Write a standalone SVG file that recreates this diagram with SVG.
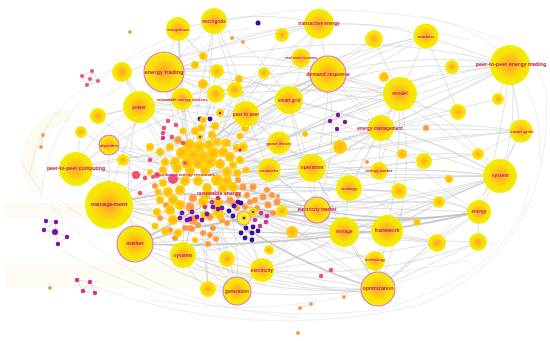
<svg xmlns="http://www.w3.org/2000/svg" width="550" height="341" viewBox="0 0 550 341">
<defs>
<radialGradient id="gb" cx="50%" cy="50%" r="50%">
<stop offset="0" stop-color="#ffa41c"/>
<stop offset="0.3" stop-color="#ffbc1c"/>
<stop offset="0.65" stop-color="#f9de08"/>
<stop offset="1" stop-color="#f0f000"/>
</radialGradient>
<radialGradient id="gs" cx="50%" cy="50%" r="50%">
<stop offset="0" stop-color="#ffb01e"/>
<stop offset="1" stop-color="#ffd600"/>
</radialGradient>
<radialGradient id="go" cx="50%" cy="50%" r="50%">
<stop offset="0" stop-color="#ff8f3a"/>
<stop offset="1" stop-color="#ffa24a"/>
</radialGradient>
<style>
.bg{fill:#fcf7ea}
.e{fill:none;stroke:#c2c2c2;stroke-width:0.6;stroke-opacity:0.8}
.e2{fill:none;stroke:#bfbfbf;stroke-width:1.7;stroke-opacity:0.8}
.e3{fill:none;stroke:#e2e2e2;stroke-width:0.6}
.ec{fill:none;stroke:#b8b8b8;stroke-width:0.5}
.n{fill:url(#gb)}
.ns{fill:url(#gs)}
.pk{stroke:#e56fd3;stroke-width:1.1}
.o{fill:url(#go)}
.r{fill:#f2506e}
.m{fill:#d4308e}
.p{fill:#7a12aa}
.b{fill:#3d0b9e}
.t{font-family:"Liberation Sans",Arial,sans-serif;font-weight:bold;fill:#c4122f;text-anchor:middle;dominant-baseline:central;paint-order:stroke;stroke:#ffffff;stroke-opacity:0.35;stroke-width:0.5}
</style>
</defs>
<rect width="550" height="341" fill="#ffffff"/>
<g id="watermark" opacity="0.55">
<rect class="bg" x="5" y="203" width="250" height="15"/>
<rect class="bg" x="5" y="264" width="262" height="24"/>
<path d="M70 115 A45 45 0 0 0 40 190" fill="none" stroke="#fbf6e6" stroke-width="14"/>
</g>
<g id="connectors">
<path class="e3" d="M40 200 Q60 30 300 10"/>
<path class="e3" d="M300 10 Q520 8 546 90"/>
<path class="e3" d="M546 90 Q555 250 420 305"/>
<path class="e3" d="M90 285 Q250 345 420 305"/>
<path class="e3" d="M30 175 Q45 60 250 28"/>
<path class="e3" d="M420 16 Q545 40 540 160"/>
<path class="e3" d="M60 250 Q200 330 380 310"/>
<path class="e3" d="M100 100 Q260 -10 470 40"/>
<path class="e3" d="M380 310 Q520 270 530 180"/>
<path class="e3" d="M60 200 Q200 315 470 260"/>
<path class="e3" d="M150 300 Q330 330 500 240"/>
<path class="e3" d="M20 160 Q100 300 300 318"/>
<path class="e" d="M164 72 Q170 120 190 160"/>
<path class="e" d="M164 72 Q200 120 210 175"/>
<path class="e" d="M164 72 Q230 60 289 100"/>
<path class="e" d="M164 72 Q250 40 328 74"/>
<path class="e" d="M164 72 Q290 50 400 94"/>
<path class="e" d="M164 72 Q340 20 510 65"/>
<path class="e" d="M164 72 Q150 90 139 107"/>
<path class="e" d="M164 72 Q120 140 109 205"/>
<path class="e" d="M164 72 Q250 110 312 168"/>
<path class="e" d="M164 72 Q240 150 317 210"/>
<path class="e" d="M139 107 Q170 130 190 160"/>
<path class="e" d="M139 107 Q160 150 180 180"/>
<path class="e" d="M139 107 Q120 180 135 244"/>
<path class="e" d="M139 107 Q270 70 400 94"/>
<path class="e" d="M139 107 Q190 100 246 114"/>
<path class="e" d="M139 107 L122 72"/>
<path class="e2" d="M109 205 Q160 190 200 195"/>
<path class="e" d="M109 205 Q160 170 210 175"/>
<path class="e" d="M109 205 Q300 260 479 212"/>
<path class="e" d="M109 205 Q300 240 500 176"/>
<path class="e" d="M109 205 Q210 220 317 210"/>
<path class="e" d="M109 205 Q230 240 344 232"/>
<path class="e" d="M109 205 Q230 300 378 289"/>
<path class="e" d="M109 205 L76 169"/>
<path class="e" d="M109 205 L109 145"/>
<path class="e2" d="M135 244 Q170 225 205 205"/>
<path class="e2" d="M135 244 Q230 215 317 210"/>
<path class="e" d="M135 244 Q250 300 378 289"/>
<path class="e" d="M135 244 Q240 250 344 232"/>
<path class="e2" d="M135 244 Q310 250 479 212"/>
<path class="e" d="M135 244 L183 255"/>
<path class="e" d="M135 244 Q180 280 237 291"/>
<path class="e" d="M378 289 Q300 230 225 185"/>
<path class="e2" d="M378 289 Q280 260 200 195"/>
<path class="e" d="M378 289 Q430 240 479 212"/>
<path class="e" d="M378 289 Q450 230 500 176"/>
<path class="e" d="M378 289 L375 261"/>
<path class="e" d="M378 289 L344 232"/>
<path class="e" d="M378 289 L387 231"/>
<path class="e" d="M378 289 Q320 280 262 270"/>
<path class="e" d="M378 289 Q300 300 237 291"/>
<path class="e" d="M378 289 Q340 220 312 168"/>
<path class="e" d="M378 289 Q420 190 400 94"/>
<path class="e" d="M500 176 Q350 180 210 175"/>
<path class="e" d="M500 176 Q400 165 312 168"/>
<path class="e" d="M500 176 Q460 120 400 94"/>
<path class="e" d="M500 176 Q520 120 510 65"/>
<path class="e" d="M500 176 L521 131"/>
<path class="e" d="M500 176 Q440 140 381 128"/>
<path class="e" d="M500 176 Q420 210 344 232"/>
<path class="e" d="M500 176 Q410 200 317 210"/>
<path class="e" d="M500 176 Q420 100 328 74"/>
<path class="e2" d="M479 212 Q340 235 200 195"/>
<path class="e2" d="M479 212 Q400 225 317 210"/>
<path class="e" d="M479 212 L387 231"/>
<path class="e" d="M479 212 L478 242"/>
<path class="e" d="M479 212 Q410 190 349 188"/>
<path class="e" d="M479 212 L437 243"/>
<path class="e" d="M510 65 Q450 70 400 94"/>
<path class="e" d="M510 65 Q420 50 328 74"/>
<path class="e" d="M510 65 Q450 100 381 128"/>
<path class="e" d="M510 65 Q400 120 312 168"/>
<path class="e" d="M510 65 Q350 80 190 160"/>
<path class="e" d="M510 65 L521 131"/>
<path class="e" d="M510 65 L498 99"/>
<path class="e" d="M510 65 L452 67"/>
<path class="e" d="M510 65 L426 36"/>
<path class="e" d="M510 65 Q500 150 479 212"/>
<path class="e2" d="M328 74 Q250 100 190 160"/>
<path class="e" d="M328 74 L400 94"/>
<path class="e" d="M328 74 L289 100"/>
<path class="e" d="M328 74 Q330 120 312 168"/>
<path class="e" d="M328 74 L319 24"/>
<path class="e" d="M328 74 L374 39"/>
<path class="e" d="M328 74 Q360 100 381 128"/>
<path class="e" d="M328 74 Q340 150 317 210"/>
<path class="e" d="M400 94 Q300 130 210 175"/>
<path class="e" d="M400 94 L381 128"/>
<path class="e" d="M400 94 L426 36"/>
<path class="e" d="M400 94 L374 39"/>
<path class="e" d="M400 94 Q370 150 349 188"/>
<path class="e" d="M400 94 Q400 170 387 231"/>
<path class="e" d="M400 94 L379 171"/>
<path class="e" d="M400 94 Q330 110 279 143"/>
<path class="e" d="M426 36 Q350 50 289 100"/>
<path class="e" d="M426 36 Q300 80 190 160"/>
<path class="e" d="M426 36 L458 112"/>
<path class="e" d="M426 36 Q370 20 319 24"/>
<path class="e" d="M319 24 Q250 80 190 160"/>
<path class="e" d="M319 24 L289 100"/>
<path class="e" d="M319 24 L282 35"/>
<path class="e" d="M319 24 Q270 10 214 21"/>
<path class="e" d="M319 24 L301 57"/>
<path class="e" d="M319 24 Q240 30 164 72"/>
<path class="e" d="M214 21 Q200 90 190 160"/>
<path class="e" d="M214 21 L178 29"/>
<path class="e" d="M214 21 L164 72"/>
<path class="e" d="M214 21 Q260 50 289 100"/>
<path class="e" d="M214 21 Q240 70 246 114"/>
<path class="e" d="M178 29 Q180 100 190 160"/>
<path class="e" d="M178 29 L164 72"/>
<path class="e" d="M178 29 L182 99"/>
<path class="e" d="M178 29 L217 71"/>
<path class="e" d="M289 100 Q240 130 210 175"/>
<path class="e" d="M289 100 L246 114"/>
<path class="e" d="M289 100 L279 143"/>
<path class="e" d="M289 100 Q300 140 312 168"/>
<path class="e" d="M289 100 Q340 110 381 128"/>
<path class="e" d="M289 100 Q300 160 317 210"/>
<path class="e" d="M246 114 Q220 130 190 160"/>
<path class="e" d="M246 114 L210 175"/>
<path class="e" d="M246 114 L279 143"/>
<path class="e" d="M246 114 L269 170"/>
<path class="e" d="M381 128 Q300 150 210 175"/>
<path class="e" d="M381 128 L312 168"/>
<path class="e" d="M381 128 L349 188"/>
<path class="e" d="M381 128 L379 171"/>
<path class="e" d="M381 128 Q450 120 521 131"/>
<path class="e" d="M521 131 Q370 140 210 175"/>
<path class="e" d="M521 131 Q500 170 479 212"/>
<path class="e" d="M521 131 L478 154"/>
<path class="e" d="M279 143 L210 175"/>
<path class="e" d="M279 143 L312 168"/>
<path class="e" d="M279 143 L269 170"/>
<path class="e" d="M269 170 L210 175"/>
<path class="e" d="M269 170 L200 195"/>
<path class="e" d="M269 170 L312 168"/>
<path class="e" d="M269 170 L317 210"/>
<path class="e" d="M312 168 Q260 180 200 195"/>
<path class="e" d="M312 168 L349 188"/>
<path class="e" d="M312 168 L317 210"/>
<path class="e" d="M312 168 L344 232"/>
<path class="e" d="M349 188 Q280 195 200 195"/>
<path class="e" d="M349 188 L344 232"/>
<path class="e" d="M349 188 L387 231"/>
<path class="e" d="M349 188 Q420 175 500 176"/>
<path class="e2" d="M317 210 Q270 195 225 185"/>
<path class="e" d="M317 210 L344 232"/>
<path class="e" d="M317 210 L262 270"/>
<path class="e" d="M317 210 Q360 250 378 289"/>
<path class="e" d="M344 232 Q270 220 200 195"/>
<path class="e" d="M344 232 L387 231"/>
<path class="e" d="M344 232 Q300 260 262 270"/>
<path class="e" d="M344 232 Q430 200 500 176"/>
<path class="e" d="M387 231 Q300 210 225 185"/>
<path class="e" d="M387 231 Q440 200 500 176"/>
<path class="e" d="M387 231 L437 243"/>
<path class="e" d="M375 261 Q290 230 200 195"/>
<path class="e" d="M375 261 L387 231"/>
<path class="e" d="M183 255 L200 195"/>
<path class="e" d="M183 255 L262 270"/>
<path class="e" d="M183 255 L237 291"/>
<path class="e" d="M183 255 Q280 290 378 289"/>
<path class="e" d="M262 270 Q230 230 200 195"/>
<path class="e" d="M262 270 L237 291"/>
<path class="e" d="M237 291 Q215 240 200 195"/>
<path class="e" d="M237 291 Q240 240 225 185"/>
<path class="e" d="M237 291 L208 289"/>
<path class="e" d="M109 145 Q150 150 190 160"/>
<path class="e" d="M109 145 L180 180"/>
<path class="e" d="M109 145 L76 169"/>
<path class="e" d="M76 169 Q130 170 180 180"/>
<path class="e" d="M76 169 Q130 150 190 160"/>
<path class="e" d="M76 169 Q90 130 139 107"/>
<path class="e" d="M76 169 L81 132"/>
<path class="e" d="M122 72 Q150 120 190 160"/>
<path class="e" d="M98 116 Q140 150 180 180"/>
<path class="e" d="M98 116 L139 107"/>
<path class="e" d="M81 132 Q130 160 185 170"/>
<path class="e" d="M123 160 L190 165"/>
<path class="e" d="M217 71 L200 150"/>
<path class="e" d="M216 94 L205 160"/>
<path class="e" d="M235 90 L212 165"/>
<path class="e" d="M264 73 L215 160"/>
<path class="e" d="M282 35 Q240 90 205 165"/>
<path class="e" d="M374 39 Q280 90 210 170"/>
<path class="e" d="M452 67 Q330 110 215 175"/>
<path class="e" d="M458 112 Q330 140 215 180"/>
<path class="e" d="M498 99 Q360 130 220 180"/>
<path class="e" d="M424 161 Q320 170 220 185"/>
<path class="e" d="M478 154 Q350 170 220 188"/>
<path class="e" d="M399 191 Q300 190 220 190"/>
<path class="e" d="M439 202 Q330 205 225 195"/>
<path class="e" d="M437 243 Q330 230 225 200"/>
<path class="e" d="M478 242 Q350 240 225 200"/>
<path class="e" d="M227 259 L210 200"/>
<path class="e" d="M208 289 L200 210"/>
<path class="e" d="M292 232 L225 195"/>
<path class="e" d="M282 211 L220 190"/>
<path class="e" d="M340 147 L220 180"/>
<path class="e" d="M269 250 L215 200"/>
<path class="e" d="M301 57 L200 160"/>
<path class="e" d="M182 99 L195 160"/>
<path class="e" d="M76 169 Q300 120 521 131"/>
<path class="e" d="M109 205 Q300 150 510 65"/>
<path class="e" d="M135 244 Q300 150 500 176"/>
<path class="e" d="M164 72 Q330 120 500 176"/>
<path class="e" d="M139 107 Q330 160 479 212"/>
<path class="e" d="M109 205 Q250 100 400 94"/>
<path class="e" d="M183 255 Q330 160 381 128"/>
<path class="e" d="M237 291 Q330 200 400 94"/>
<path class="e" d="M262 270 Q390 220 500 176"/>
<path class="e" d="M183 255 Q320 230 479 212"/>
<path class="e" d="M135 244 Q240 150 289 100"/>
<path class="e" d="M109 205 Q200 110 246 114"/>
<path class="e" d="M76 169 Q200 60 328 74"/>
<path class="e" d="M109 145 Q260 70 426 36"/>
<path class="e" d="M237 291 Q290 250 349 188"/>
<path class="e" d="M183 255 Q240 200 312 168"/>
<path class="e" d="M328 74 Q420 180 479 212"/>
<path class="e" d="M289 100 Q420 130 500 176"/>
<path class="e" d="M262 270 Q340 260 437 243"/>
<path class="e" d="M262 270 Q380 280 478 242"/>
<path class="e" d="M378 289 L437 243"/>
<path class="e" d="M378 289 L478 242"/>
<path class="e" d="M344 232 L399 191"/>
<path class="e" d="M387 231 L439 202"/>
<path class="e" d="M317 210 L399 191"/>
<path class="e" d="M164 72 L217 71"/>
<path class="e" d="M164 72 L216 94"/>
<path class="e" d="M178 29 L203 56"/>
<path class="e" d="M214 21 L235 90"/>
<path class="e" d="M230 155 L279 143"/>
<path class="e" d="M175 162 L139 107"/>
<path class="e" d="M165 162 L109 145"/>
<path class="e" d="M187 195 L109 205"/>
<path class="e" d="M173 220 L135 244"/>
<path class="e" d="M190 228 L183 255"/>
<path class="e" d="M218 212 L237 291"/>
<path class="e" d="M233 203 L262 270"/>
<path class="e" d="M250 202 L317 210"/>
<path class="e" d="M245 207 L344 232"/>
<path class="e" d="M237 173 L312 168"/>
<path class="e" d="M233 187 L349 188"/>
<path class="e" d="M223 152 L289 100"/>
<path class="e" d="M213 153 L246 114"/>
<path class="e" d="M193 155 L164 72"/>
<path class="e" d="M182 153 L122 72"/>
<path class="e" d="M203 157 L214 21"/>
<path class="e" d="M160 200 L76 169"/>
<path class="e" d="M168 192 L109 205"/>
<path class="e" d="M205 215 L208 289"/>
<path class="e" d="M227 180 L269 170"/>
<path class="e" d="M220 163 L400 94"/>
<path class="e" d="M217 180 L381 128"/>
<path class="e" d="M227 172 L500 176"/>
<path class="e" d="M203 202 L479 212"/>
<path class="e" d="M218 202 L387 231"/>
<path class="e" d="M198 180 L378 289"/>
<path class="e" d="M187 163 L328 74"/>
<path class="e" d="M198 163 L510 65"/>
<path class="e" d="M210 162 L426 36"/>
<path class="e" d="M177 168 L319 24"/>
<path class="e" d="M190 170 L178 29"/>
<path class="e" d="M205 170 L269 170"/>
<path class="e" d="M185 180 L183 255"/>
<path class="e" d="M180 205 L262 270"/>
<path class="e" d="M170 210 L237 291"/>
<path class="e" d="M173 200 L344 232"/>
<path class="e" d="M220 215 L375 261"/>
<path class="e" d="M233 163 L521 131"/>
<path class="e" d="M150 147 L246 114"/>
<path class="e" d="M160 152 L289 100"/>
<path class="e" d="M165 231 L317 210"/>
<path class="e" d="M178 233 L344 232"/>
<path class="e" d="M155 226 L109 205"/>
<path class="e" d="M157 212 L76 169"/>
<path class="e" d="M240 160 L312 168"/>
<path class="e" d="M246 170 L349 188"/>
<path class="e" d="M243 147 L328 74"/>
<path class="e" d="M245 128 L289 100"/>
<path class="e" d="M253 212 L317 210"/>
<path class="e" d="M244 218 L292 232"/>
<path class="e" d="M244 218 L262 270"/>
<path class="e" d="M253 187 L312 168"/>
<path class="e" d="M277 202 L344 232"/>
<path class="e" d="M268 205 L317 210"/>
<path class="e" d="M263 197 L269 170"/>
<path class="e" d="M195 240 L227 259"/>
<path class="e" d="M208 244 L262 270"/>
<path class="e" d="M150 172 L123 160"/>
<path class="e" d="M136 175 L109 205"/>
<path class="e" d="M136 175 L109 145"/>
<path class="e" d="M201 128 L216 94"/>
<path class="e" d="M215 126 L235 90"/>
<path class="e" d="M220 113 L264 73"/>
<path class="e" d="M183 131 L182 99"/>
<path class="e" d="M240 136 L279 143"/>
<path class="e" d="M227 143 L269 170"/>
<path class="e" d="M109 205 Q280 200 439 202"/>
<path class="e" d="M135 244 Q300 230 437 243"/>
<path class="e" d="M76 169 Q300 190 399 191"/>
<path class="e" d="M139 107 Q300 120 424 161"/>
<path class="e" d="M164 72 Q320 90 458 112"/>
<path class="e" d="M289 100 Q380 60 452 67"/>
<path class="e" d="M312 168 Q400 150 478 154"/>
<path class="e" d="M349 188 Q400 210 437 243"/>
<path class="e" d="M262 270 Q350 300 378 289"/>
<path class="e" d="M183 255 Q200 300 237 291"/>
<path class="e" d="M122 72 Q240 40 319 24"/>
<path class="e" d="M98 116 Q250 80 400 94"/>
<path class="ec" d="M92 71 L82 76 L87 85 L98 81 Z M90 79 L92 71 M90 79 L82 76 M90 79 L87 85 M90 79 L98 81"/>
<path class="ec" d="M46 221 L56 222 L55 232 L44 230 Z M56 222 L44 230 M55 232 L67 237 M55 232 L58 244 M67 237 L58 244"/>
<path class="ec" d="M77 280 L90 282 L95 293 L83 291 Z M90 282 L83 291"/>
<path class="ec" d="M338 115 L330 121 L337 129 L345 122 Z"/>
<path class="ec" d="M331 270 L321 276"/>
<path class="ec" d="M311 304 L300 308"/>
<path class="ec" d="M43 135 L41 147"/>
</g>
<g id="small-nodes">
<circle class="o" cx="130" cy="32" r="2"/>
<circle class="o" cx="232" cy="38" r="2"/>
<circle class="o" cx="243" cy="42" r="2"/>
<circle class="b" cx="258" cy="23" r="2.5"/>
<circle class="r" cx="92" cy="71" r="2"/>
<circle class="r" cx="82" cy="76" r="2"/>
<circle class="r" cx="90" cy="79" r="2"/>
<circle class="r" cx="98" cy="81" r="2"/>
<circle class="r" cx="87" cy="85" r="2"/>
<circle class="o" cx="43" cy="135" r="2"/>
<circle class="o" cx="41" cy="147" r="2"/>
<circle class="p" cx="46" cy="221" r="2.2"/>
<circle class="p" cx="56" cy="222" r="2.2"/>
<circle class="p" cx="44" cy="230" r="2.2"/>
<circle class="p" cx="55" cy="232" r="3"/>
<circle class="p" cx="67" cy="237" r="2.2"/>
<circle class="p" cx="58" cy="244" r="2.2"/>
<circle class="m" cx="77" cy="280" r="2.2"/>
<circle class="m" cx="90" cy="282" r="2.2"/>
<circle class="m" cx="83" cy="291" r="2.2"/>
<circle class="m" cx="95" cy="293" r="2.2"/>
<circle class="o" cx="50" cy="288" r="2"/>
<circle class="p" cx="338" cy="115" r="2.2"/>
<circle class="p" cx="330" cy="121" r="2.2"/>
<circle class="p" cx="345" cy="122" r="2.2"/>
<circle class="p" cx="337" cy="129" r="2.2"/>
<circle class="r" cx="331" cy="270" r="2.2"/>
<circle class="r" cx="321" cy="276" r="2.2"/>
<circle class="o" cx="344" cy="297" r="2"/>
<circle class="o" cx="311" cy="304" r="2"/>
<circle class="o" cx="300" cy="308" r="2"/>
<circle class="o" cx="298" cy="333" r="2"/>
<circle class="o" cx="367" cy="162" r="2"/>
<circle class="o" cx="278" cy="196" r="2"/>
<circle class="o" cx="426" cy="128" r="3"/>
<circle class="b" cx="200" cy="119" r="2.4"/>
<circle class="b" cx="210" cy="119" r="2.4"/>
</g>
<g id="peripheral-nodes">
<circle class="n" cx="122" cy="72" r="10"/>
<circle class="n" cx="98" cy="116" r="8"/>
<circle class="n" cx="81" cy="132" r="6"/>
<circle class="n" cx="123" cy="160" r="6"/>
<circle class="n" cx="217" cy="71" r="7"/>
<circle class="n" cx="216" cy="94" r="9"/>
<circle class="n" cx="235" cy="90" r="8"/>
<circle class="ns" cx="203" cy="84" r="5"/>
<circle class="ns" cx="195" cy="65" r="4"/>
<circle class="ns" cx="203" cy="56" r="4"/>
<circle class="ns" cx="239" cy="79" r="4"/>
<circle class="n" cx="264" cy="73" r="6"/>
<circle class="n" cx="282" cy="35" r="7"/>
<circle class="n" cx="374" cy="39" r="9"/>
<circle class="ns" cx="384" cy="77" r="5"/>
<circle class="n" cx="452" cy="67" r="7"/>
<circle class="n" cx="458" cy="112" r="8"/>
<circle class="n" cx="498" cy="99" r="6"/>
<circle class="ns" cx="340" cy="147" r="7"/>
<circle class="ns" cx="305" cy="134" r="3"/>
<circle class="ns" cx="402" cy="154" r="5"/>
<circle class="n" cx="424" cy="161" r="8"/>
<circle class="n" cx="478" cy="154" r="6"/>
<circle class="n" cx="399" cy="191" r="8"/>
<circle class="n" cx="439" cy="202" r="6"/>
<circle class="ns" cx="417" cy="222" r="3.5"/>
<circle class="n" cx="437" cy="243" r="9"/>
<circle class="n" cx="478" cy="242" r="9"/>
<circle class="ns" cx="449" cy="179" r="4"/>
<circle class="n" cx="282" cy="211" r="6"/>
<circle class="ns" cx="292" cy="232" r="6"/>
<circle class="n" cx="227" cy="259" r="8"/>
<circle class="n" cx="208" cy="289" r="8"/>
<circle class="n" cx="269" cy="250" r="5"/>
</g>
<g id="core-cluster">
<circle class="o" cx="238" cy="180" r="3"/><circle class="o" cx="243" cy="187" r="3.5"/><circle class="o" cx="247" cy="195" r="3"/><circle class="o" cx="238" cy="195" r="3"/>
<circle class="o" cx="233" cy="203" r="3"/><circle class="o" cx="237" cy="208" r="3"/><circle class="o" cx="245" cy="207" r="3"/><circle class="o" cx="250" cy="202" r="3"/>
<circle class="o" cx="253" cy="187" r="3.5"/><circle class="o" cx="267" cy="190" r="3"/><circle class="o" cx="263" cy="197" r="3.5"/><circle class="o" cx="272" cy="195" r="3"/>
<circle class="o" cx="277" cy="202" r="3.5"/><circle class="o" cx="255" cy="200" r="3"/><circle class="o" cx="268" cy="205" r="3.5"/><circle class="o" cx="273" cy="213" r="3"/><circle class="o" cx="257" cy="208" r="3"/>
<circle class="o" cx="190" cy="228" r="3"/><circle class="o" cx="198" cy="225" r="3"/><circle class="o" cx="203" cy="233" r="3"/><circle class="o" cx="185" cy="228" r="3"/>
<circle class="o" cx="192" cy="229" r="3"/><circle class="o" cx="210" cy="235" r="3"/><circle class="o" cx="213" cy="228" r="3"/><circle class="o" cx="222" cy="220" r="3"/><circle class="o" cx="227" cy="223" r="3"/>
<circle class="o" cx="155" cy="186" r="3"/><circle class="o" cx="166" cy="205" r="3"/><circle class="o" cx="160" cy="218" r="3"/><circle class="o" cx="170" cy="230" r="3"/><circle class="o" cx="175" cy="238" r="3"/><circle class="o" cx="208" cy="244" r="3"/><circle class="o" cx="216" cy="239" r="3"/>
<circle class="ns" cx="189" cy="145" r="6"/><circle class="ns" cx="199" cy="147" r="6"/><circle class="ns" cx="209" cy="145" r="5"/><circle class="ns" cx="217" cy="142" r="4"/><circle class="ns" cx="225" cy="143" r="4"/>
<circle class="ns" cx="182" cy="153" r="6"/><circle class="ns" cx="193" cy="155" r="6"/><circle class="ns" cx="203" cy="157" r="6"/><circle class="ns" cx="213" cy="153" r="6"/><circle class="ns" cx="223" cy="152" r="5"/><circle class="ns" cx="230" cy="157" r="5"/>
<circle class="ns" cx="175" cy="162" r="5"/><circle class="ns" cx="187" cy="163" r="6"/><circle class="ns" cx="198" cy="163" r="6"/><circle class="ns" cx="210" cy="162" r="6"/><circle class="ns" cx="220" cy="164" r="5"/><circle class="ns" cx="233" cy="165" r="4"/>
<circle class="ns" cx="165" cy="162" r="4"/><circle class="ns" cx="163" cy="170" r="4"/><circle class="ns" cx="177" cy="168" r="5"/><circle class="ns" cx="190" cy="171" r="5"/><circle class="ns" cx="205" cy="170" r="5"/><circle class="ns" cx="227" cy="172" r="5"/><circle class="ns" cx="237" cy="173" r="4"/>
<circle class="ns" cx="185" cy="181" r="5"/><circle class="ns" cx="198" cy="181" r="5"/><circle class="ns" cx="217" cy="180" r="6"/><circle class="ns" cx="227" cy="181" r="5"/><circle class="ns" cx="163" cy="183" r="4"/>
<circle class="ns" cx="168" cy="192" r="5"/><circle class="ns" cx="180" cy="190" r="5"/><circle class="ns" cx="207" cy="188" r="5"/><circle class="ns" cx="223" cy="188" r="5"/><circle class="ns" cx="233" cy="187" r="5"/>
<circle class="ns" cx="160" cy="200" r="4"/><circle class="ns" cx="173" cy="200" r="5"/><circle class="ns" cx="180" cy="205" r="5"/><circle class="ns" cx="203" cy="202" r="5"/><circle class="ns" cx="218" cy="202" r="5"/>
<circle class="ns" cx="170" cy="210" r="5"/><circle class="ns" cx="205" cy="215" r="4"/><circle class="ns" cx="218" cy="212" r="5"/><circle class="ns" cx="173" cy="220" r="5"/><circle class="ns" cx="220" cy="216" r="4"/><circle class="ns" cx="157" cy="212" r="4"/>
<circle class="ns" cx="150" cy="147" r="4"/><circle class="ns" cx="201" cy="128" r="4"/><circle class="ns" cx="215" cy="126" r="4"/><circle class="ns" cx="203" cy="120" r="3.5"/><circle class="ns" cx="227" cy="143" r="4"/><circle class="ns" cx="237" cy="148" r="4"/>
<circle class="n" cx="243" cy="147" r="5"/><circle class="ns" cx="245" cy="128" r="4"/><circle class="ns" cx="240" cy="136" r="3.5"/><circle class="ns" cx="160" cy="152" r="4"/><circle class="ns" cx="170" cy="147" r="4"/>
<circle class="ns" cx="155" cy="226" r="3.5"/><circle class="ns" cx="165" cy="231" r="4"/><circle class="ns" cx="178" cy="233" r="4"/><circle class="ns" cx="195" cy="240" r="3"/><circle class="ns" cx="158" cy="192" r="3.5"/><circle class="ns" cx="150" cy="172" r="3"/>
<circle class="ns" cx="240" cy="160" r="4"/><circle class="ns" cx="246" cy="170" r="3.5"/><circle class="ns" cx="195" cy="131" r="4"/><circle class="ns" cx="212" cy="135" r="4"/><circle class="ns" cx="183" cy="131" r="3.5"/>
<circle class="ns" cx="220" cy="113" r="4"/><circle class="b" cx="220" cy="113" r="1"/>
<circle class="ns" cx="200" cy="137" r="3.5"/><circle class="b" cx="200" cy="137" r="0.9"/>
<circle class="o" cx="178" cy="140" r="3.5" stroke="#ffc21e" stroke-width="1"/>
<circle class="o" cx="193" cy="198" r="4"/><circle class="o" cx="190" cy="207" r="4.5"/><circle class="o" cx="193" cy="220" r="4.5"/><circle class="o" cx="230" cy="200" r="3.5"/>
<circle class="o" cx="210" cy="217" r="3.5" stroke="#ffcc22" stroke-width="1"/>
<circle class="r" cx="163" cy="133" r="2.3"/><circle class="r" cx="172" cy="137" r="2.3"/><circle class="r" cx="183" cy="143" r="2.3"/><circle class="r" cx="185" cy="163" r="2"/>
<circle class="r" cx="157" cy="175" r="3"/><circle class="r" cx="164" cy="128" r="2.3"/><circle class="r" cx="176" cy="125" r="2.3"/><circle class="r" cx="168" cy="121" r="2.3"/>
<circle class="r" cx="150" cy="160" r="2.3"/><circle class="r" cx="145" cy="178" r="2.3"/><circle class="r" cx="153" cy="177" r="2"/><circle class="r" cx="140" cy="193" r="2.3"/>
<circle class="r" cx="136" cy="175" r="4" fill="#f05070"/>
<circle class="m" cx="163" cy="138" r="2.3"/><circle class="m" cx="212" cy="202" r="2.3"/><circle class="m" cx="218" cy="198" r="2.3"/><circle class="m" cx="255" cy="220" r="2.3"/>
<circle class="m" cx="261" cy="213" r="2.3"/><circle class="m" cx="266" cy="222" r="2.3"/><circle class="m" cx="267" cy="216" r="2.3"/><circle class="m" cx="260" cy="226" r="2.3"/><circle class="m" cx="205" cy="207" r="2.3"/><circle class="m" cx="240" cy="150" r="1.8"/>
<circle class="p" cx="182" cy="213" r="2.4"/><circle class="p" cx="187" cy="220" r="2.4"/><circle class="p" cx="192" cy="212" r="2.4"/><circle class="p" cx="197" cy="217" r="2.4"/>
<circle class="p" cx="180" cy="218" r="2.4"/><circle class="p" cx="190" cy="219" r="2.4"/><circle class="p" cx="213" cy="207" r="2.4"/><circle class="p" cx="218" cy="209" r="2.4"/>
<circle class="p" cx="207" cy="214" r="2.4"/><circle class="p" cx="202" cy="220" r="2.4"/><circle class="p" cx="222" cy="208" r="2.4"/>
<circle class="b" cx="234" cy="206" r="2.4"/><circle class="b" cx="241" cy="203" r="2.4"/><circle class="b" cx="229" cy="211" r="2.4"/><circle class="b" cx="233" cy="216" r="2.4"/>
<circle class="b" cx="246" cy="228" r="2.4"/><circle class="b" cx="253" cy="227" r="2.4"/><circle class="b" cx="258" cy="231" r="2.4"/><circle class="b" cx="241" cy="233" r="2.4"/>
<circle class="b" cx="252" cy="233" r="2.4"/><circle class="b" cx="245" cy="238" r="2.4"/><circle class="b" cx="252" cy="240" r="2.4"/><circle class="b" cx="238" cy="202" r="2.4"/>
<circle class="ns" cx="253" cy="212" r="4" stroke="#f4f000" stroke-width="1"/><circle class="b" cx="253" cy="212" r="1"/>
</g>
<g id="node-distributed-energy-resources">
<circle cx="173" cy="179" r="5" fill="#ee4f78"/>
<text class="t" x="185" y="174" font-size="4.3">distributed energy resources</text>
</g>
<g id="node-renewable-energy">
<circle class="ns" cx="206" cy="196" r="4"/>
<text class="t" x="219" y="193" font-size="5.2">renewable energy</text>
</g>
<g id="node-eye">
<circle cx="244" cy="218" r="7" fill="#f2ee00" stroke="#e56fd3" stroke-width="0.8"/>
<circle cx="244" cy="218" r="4.5" fill="#fff26a"/>
<circle cx="244" cy="218" r="3" fill="#f5d800"/>
<circle cx="244" cy="218" r="1.3" fill="#7a12aa"/>
</g>
<g id="node-integration"><circle class="n" cx="178" cy="29" r="12"/><text class="t" x="178" y="29" font-size="4.2">integration</text></g>
<g id="node-microgrids"><circle class="n" cx="214" cy="21" r="13"/><text class="t" x="214" y="21" font-size="4.5">microgrids</text></g>
<g id="node-energy-trading"><circle class="n pk" cx="164" cy="72" r="20"/><text class="t" x="164" y="72" font-size="5.6">energy trading</text></g>
<g id="node-renewable-energy-sources"><circle class="n" cx="182" cy="99" r="11"/><text class="t" x="182" y="99" font-size="4.05">renewable energy sources</text></g>
<g id="node-power"><circle class="n" cx="139" cy="107" r="16"/><text class="t" x="139" y="107" font-size="4.6">power</text></g>
<g id="node-algorithm"><circle class="n pk" cx="109" cy="145" r="10"/><text class="t" x="109" y="145" font-size="4">algorithm</text></g>
<g id="node-peer-to-peer-computing"><circle class="n" cx="76" cy="169" r="17"/><text class="t" x="76" y="168" font-size="5.2">peer-to-peer computing</text></g>
<g id="node-peer-to-peer"><circle class="n" cx="246" cy="114" r="13"/><text class="t" x="246" y="114" font-size="4.6">peer to peer</text></g>
<g id="node-smart-grid"><circle class="n" cx="289" cy="100" r="14"/><text class="t" x="289" y="100" font-size="4.6">smart grid</text></g>
<g id="node-transactive-energy"><circle class="n" cx="319" cy="24" r="15"/><text class="t" x="319" y="23" font-size="4.7">transactive energy</text></g>
<g id="node-real-time-systems"><circle class="n" cx="301" cy="58" r="9.5"/><text class="t" x="301" y="58" font-size="3.8">real-time systems</text></g>
<g id="node-demand-response"><circle class="n pk" cx="328" cy="74" r="18"/><text class="t" x="328" y="74" font-size="5.1">demand response</text></g>
<g id="node-markets"><circle class="n" cx="426" cy="36" r="12.5"/><text class="t" x="426" y="36" font-size="4.4">markets</text></g>
<g id="node-peer-to-peer-energy-trading"><circle class="n" cx="510" cy="65" r="20"/><text class="t" x="511" y="64" font-size="5.4">peer-to-peer energy trading</text></g>
<g id="node-model"><circle class="n" cx="400" cy="94" r="17"/><text class="t" x="400" y="93" font-size="5.2">model</text></g>
<g id="node-energy-management"><circle class="n" cx="381" cy="128" r="13"/><text class="t" x="380" y="128" font-size="4.7">energy management</text></g>
<g id="node-smart-grids"><circle class="n" cx="521" cy="131" r="11.5"/><text class="t" x="522" y="131" font-size="4.3">smart grids</text></g>
<g id="node-game-theory"><circle class="n" cx="279" cy="143" r="11.5"/><text class="t" x="279" y="143" font-size="4.2">game theory</text></g>
<g id="node-networks"><circle class="n" cx="269" cy="170" r="11.5"/><text class="t" x="269" y="170" font-size="4.3">networks</text></g>
<g id="node-operation"><circle class="n" cx="312" cy="168" r="14"/><text class="t" x="312" y="167" font-size="5">operation</text></g>
<g id="node-energy-market"><circle class="n" cx="379" cy="171" r="9"/><text class="t" x="379" y="170" font-size="3.9">energy market</text></g>
<g id="node-strategy"><circle class="n" cx="349" cy="188" r="13"/><text class="t" x="349" y="188" font-size="4.3">strategy</text></g>
<g id="node-electricity-market"><circle class="n pk" cx="317" cy="210" r="13"/><text class="t" x="317" y="209" font-size="4.7">electricity market</text></g>
<g id="node-storage"><circle class="n" cx="344" cy="232" r="15"/><text class="t" x="344" y="231" font-size="4.6">storage</text></g>
<g id="node-framework"><circle class="n" cx="387" cy="231" r="16"/><text class="t" x="387" y="230" font-size="4.9">framework</text></g>
<g id="node-technology"><circle class="n" cx="375" cy="261" r="10"/><text class="t" x="375" y="260" font-size="3.8">technology</text></g>
<g id="node-optimization"><circle class="n pk" cx="378" cy="289" r="17"/><text class="t" x="378" y="288" font-size="5.3">optimization</text></g>
<g id="node-system"><circle class="n" cx="500" cy="176" r="17"/><text class="t" x="500" y="175" font-size="5">system</text></g>
<g id="node-energy"><circle class="n" cx="479" cy="212" r="12"/><text class="t" x="479" y="211" font-size="4.5">energy</text></g>
<g id="node-management"><circle class="n" cx="109" cy="205" r="24"/><text class="t" x="109" y="204" font-size="6">management</text></g>
<g id="node-market"><circle class="n pk" cx="135" cy="244" r="18"/><text class="t" x="135" y="243" font-size="5.3">market</text></g>
<g id="node-systems"><circle class="n" cx="183" cy="255" r="13"/><text class="t" x="183" y="255" font-size="4.75">systems</text></g>
<g id="node-electricity"><circle class="n" cx="262" cy="270" r="12"/><text class="t" x="262" y="270" font-size="4.7">electricity</text></g>
<g id="node-generation"><circle class="n pk" cx="237" cy="291" r="14"/><text class="t" x="237" y="291" font-size="4.7">generation</text></g>
</svg>
